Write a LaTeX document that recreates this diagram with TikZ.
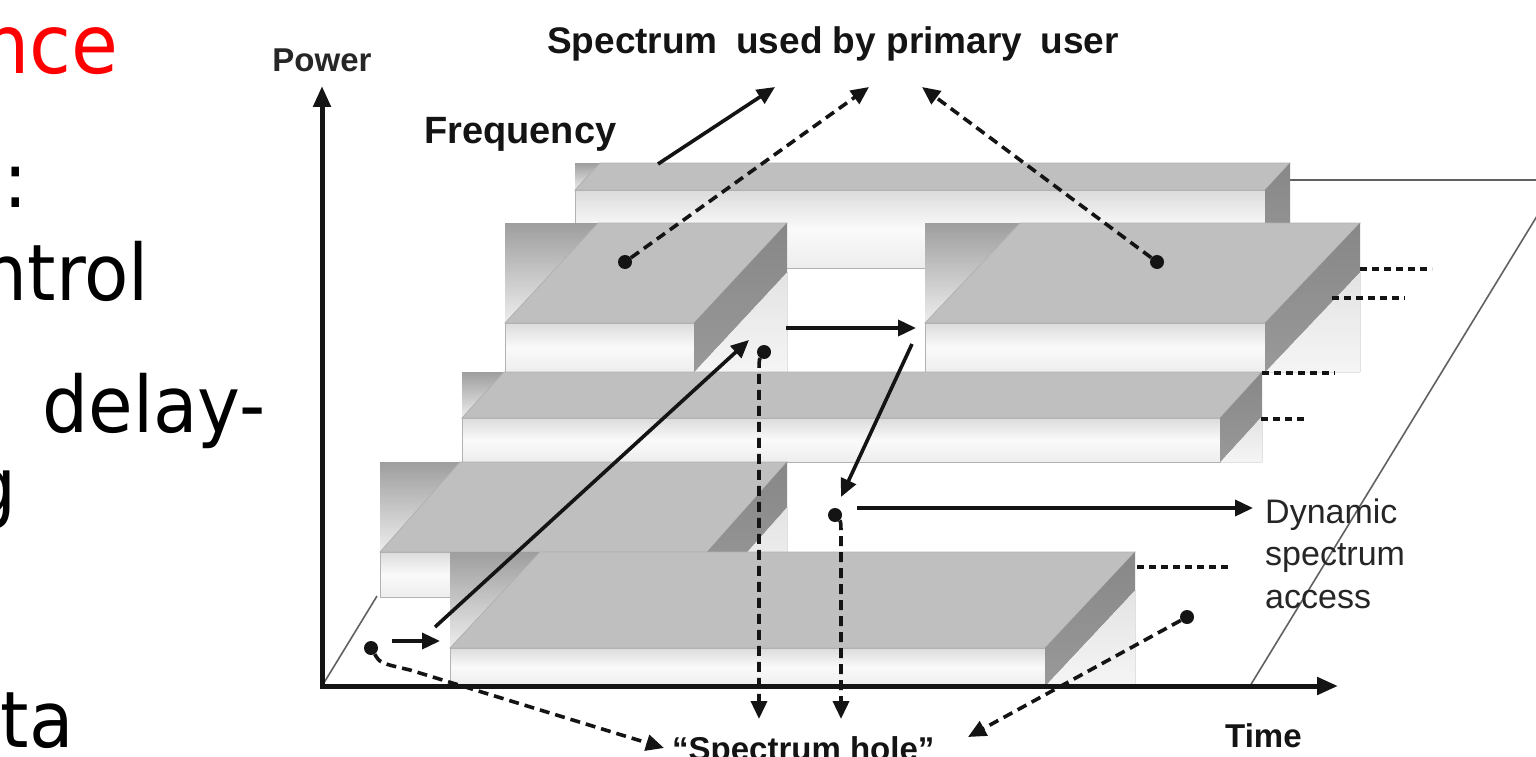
\documentclass[tikz,border=0pt]{standalone}
\usepackage{fontspec}
\setmainfont{Liberation Sans}
\newfontfamily\slidefont[FakeStretch=0.93]{DejaVu Sans}
\usetikzlibrary{arrows.meta}

% One slab of the time-frequency grid, drawn as a bevelled box:
% #1,#2 left/right x; #3,#4 top/bottom y; #5,#6 depth offset (x,y)
\newcommand\drawslab[6]{%
  \fill[top color=black!38, bottom color=black!7]
    (#1,#3) -- ({#1+#5},#3) -- (#1,{#3+#6}) -- cycle;
  \fill[top color=black!11, bottom color=black!4]
    ({#2-#5},#4) -- (#2,{#4-#6}) -- (#2,#4) -- cycle;
  \path[top color=black!14, bottom color=black!7, middle color=black!2,
        draw=black!30, line width=0.8pt]
    (#1,{#3+#6}) rectangle ({#2-#5},#4);
  \path[fill=black!25, draw=black!30, line width=0.8pt]
    (#1,{#3+#6}) -- ({#1+#5},#3) -- (#2,#3) -- ({#2-#5},{#3+#6}) -- cycle;
  \path[top color=black!47, bottom color=black!40]
    ({#2-#5},{#3+#6}) -- (#2,#3) -- (#2,{#4-#6}) -- ({#2-#5},#4) -- cycle;
}

\begin{document}
\begin{tikzpicture}[x=1pt,y=-1pt,
  slide/.style={inner sep=0pt, font=\slidefont\fontsize{78}{94}\selectfont},
  lbl/.style={inner sep=0pt, text=black!92, font=\bfseries\fontsize{37}{44}\selectfont},
  plain/.style={inner sep=0pt, text=black!85, font=\fontsize{34}{42}\selectfont},
  floorline/.style={draw=black!62, line width=1.6pt},
  axis/.style={draw=black!92, line width=5pt, line join=miter,
    {Triangle[length=21pt,width=17pt]}-{Triangle[length=21pt,width=17pt]}},
  arr/.style={draw=black!92, line width=3.6pt, -{Triangle[length=18pt,width=16pt]}},
  darr/.style={arr, dash pattern=on 10pt off 6pt},
  tick/.style={draw=black!92, line width=3.4pt, dash pattern=on 7pt off 5pt},
  dot/.style={circle, fill=black!92, inner sep=0pt, minimum size=14pt},
]
\useasboundingbox (0,0) rectangle (1536,757);
\fill[white] (0,0) rectangle (1536,757);

% ---- slide text running off the left edge ----
\node[slide, anchor=base east, text=red, font=\slidefont\fontsize{82}{98}\selectfont]
  (w0) at (119,74) {nce};
\node[slide, anchor=base] (w1) at (16,207) {:};
\node[slide, anchor=base east] (w2) at (149,300) {ntrol};
\node[slide, anchor=base east] (w3) at (266,432) {delay-};
\node[slide, anchor=base east] (w4) at (17,513) {g};
\node[slide, anchor=base east] (w5) at (74,747) {ta};

% ---- floor plane (time-frequency plane) ----
\draw[floorline] (322,686) -- (377,596);
\draw[floorline] (1280,180) -- (1540,180);
\draw[floorline] (1250,686) -- (1559,180);

% ---- slabs, back to front ----
\drawslab{575}{1290}{163}{268}{25}{27}
\drawslab{505}{787}{223}{372}{93}{100}
\drawslab{925}{1360}{223}{372}{95}{100}
\drawslab{462}{1262}{372}{462}{42}{46}
\drawslab{380}{787}{462}{597}{80}{90}
\drawslab{450}{1135}{552}{686}{90}{96}

% ---- continuation marks on the right ----
\draw[tick] (1360,269) -- (1432,269);
\draw[tick] (1332,298) -- (1405,298);
\draw[tick] (1262,373) -- (1335,373);
\draw[tick] (1261,419) -- (1306,419);
\draw[tick] (1137,567) -- (1232,567);

% ---- axes ----
\coordinate (P) at (322,86);
\coordinate (O) at (322,686);
\coordinate (T) at (1338,686);
\draw[axis] (P) -- (O) -- (T);

% ---- labels ----
\node[lbl, anchor=base, font=\bfseries\fontsize{33}{40}\selectfont, text=black!85]
  (power) at (322,72) {Power};
\node[lbl, anchor=base west, font=\bfseries\fontsize{38}{46}\selectfont]
  (freq) at (424,143) {Frequency};
\node[lbl, anchor=base west] (pu) at (547,54)
  {Spectrum\hspace{0.5em}used by primary\hspace{0.5em}user};
\node[lbl, anchor=base west, font=\bfseries\fontsize{33}{40}\selectfont]
  (time) at (1225,747) {Time};
\node[lbl, anchor=base west, font=\bfseries\fontsize{33}{40}\selectfont]
  (hole) at (672,760) {``Spectrum hole''};
\node[plain, anchor=base west] (dsa1) at (1265,523) {Dynamic};
\node[plain, anchor=base west] (dsa2) at (1265,565) {spectrum};
\node[plain, anchor=base west] (dsa3) at (1265,608) {access};

% ---- marker dots ----
\node[dot] (pu1) at (625,262) {};
\node[dot] (pu2) at (1157,262) {};
\node[dot] (h1) at (764,352) {};
\node[dot] (h2) at (835,515) {};
\node[dot] (s0) at (371,648) {};
\node[dot] (s3) at (1187,617) {};

% ---- arrow end points ----
\coordinate (a1s) at (658,164);  \coordinate (a1t) at (775,87);
\coordinate (pu1t) at (869,87);
\coordinate (pu2t) at (922,87);
\coordinate (s0t) at (664,748);
\coordinate (s3t) at (968,737);
\coordinate (h1t) at (759,719);
\coordinate (h2t) at (841,719);
\coordinate (b1s) at (392,641);  \coordinate (b1t) at (440,641);
\coordinate (b2s) at (435,627);  \coordinate (b2t) at (749,340);
\coordinate (b3s) at (786,328);  \coordinate (b3t) at (916,328);
\coordinate (b4s) at (912,344);  \coordinate (b4t) at (841,497);
\coordinate (b5s) at (857,508);  \coordinate (b5t) at (1253,508);

% ---- spectrum used by primary user ----
\draw[arr] (a1s) -- (a1t);
\draw[darr] (pu1) -- (pu1t);
\draw[darr] (pu2) -- (pu2t);

% ---- secondary user hopping through the holes ----
\draw[arr] (b1s) -- (b1t);
\draw[arr] (b2s) -- (b2t);
\draw[arr] (b3s) -- (b3t);
\draw[arr] (b4s) -- (b4t);
\draw[arr] (b5s) -- (b5t);

% ---- spectrum holes ----
\draw[darr] (s0) .. controls (380,663) .. (410,670) -- (s0t);
\draw[darr] (h1) .. controls (759,360) .. (759,385) -- (h1t);
\draw[darr] (h2) .. controls (841,522) .. (841,545) -- (h2t);
\draw[darr] (s3) -- (s3t);
\end{tikzpicture}
\end{document}
